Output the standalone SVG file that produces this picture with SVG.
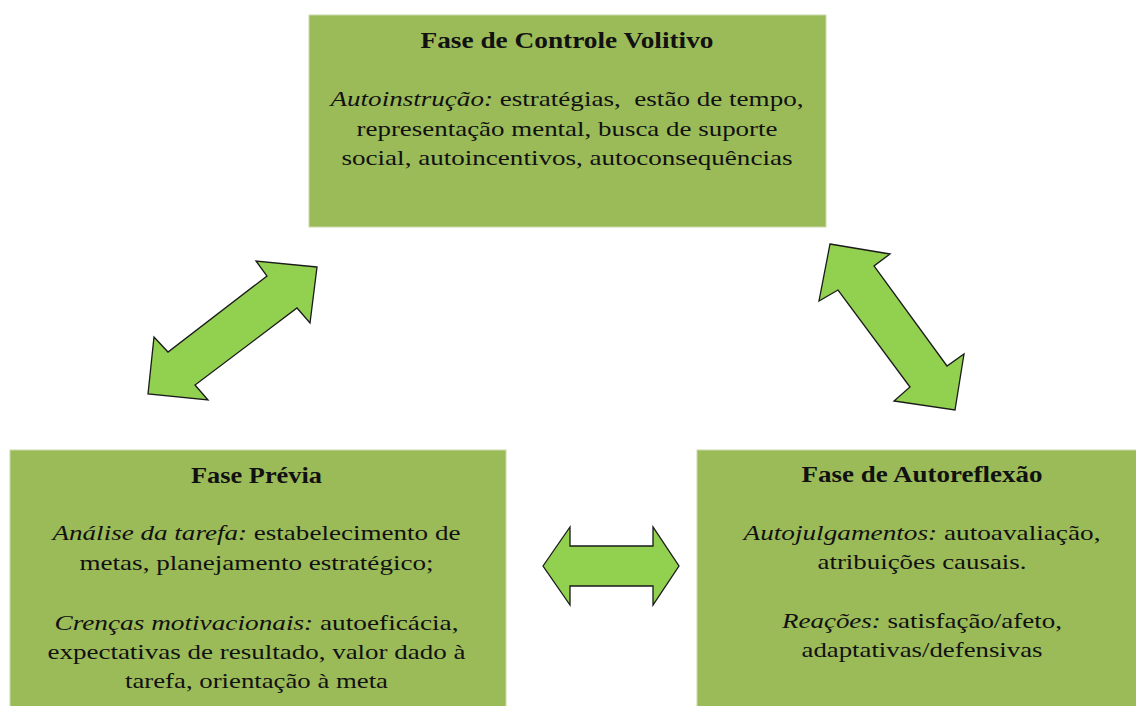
<svg xmlns="http://www.w3.org/2000/svg" width="1136" height="706" viewBox="0 0 1136 706">
<defs>
<style>
.box{fill:#9BBB59;stroke:#C9D9AC;stroke-width:1}
.arr{fill:#92D050;stroke:#1a1a1a;stroke-width:1.3;stroke-linejoin:miter}
text{font-family:"Liberation Serif","Times New Roman",serif;fill:#111;text-anchor:middle}
.t{font-size:23px;font-weight:bold}
.b{font-size:21px}
.i{font-style:italic}
</style>
</defs>
<rect width="1136" height="706" fill="#ffffff"/>
<g id="connectors">
<polygon class="arr" points="317,267 256,261 267,276 168,352 154,337 148,394 208,400 195,385 297,308 310,323"/>
<polygon class="arr" points="830,244 890,254 874,266 947,366 964,354 955,410 894,401 910,387 838,290 819,301"/>
<polygon class="arr" points="543,566 570,527 570,546 653,546 653,527 679,566 653,605 653,586 570,586 570,605"/>
</g>
<g id="node-controle-volitivo">
<rect class="box" x="309" y="15" width="517" height="212"/>
<text class="t" x="567" y="48" textLength="293" lengthAdjust="spacingAndGlyphs">Fase de Controle Volitivo</text>
<text class="b" x="567" y="106" textLength="473" lengthAdjust="spacingAndGlyphs" xml:space="preserve"><tspan class="i">Autoinstrução:</tspan> estratégias,  estão de tempo,</text>
<text class="b" x="567" y="136" textLength="421" lengthAdjust="spacingAndGlyphs">representação mental, busca de suporte</text>
<text class="b" x="567" y="165" textLength="451" lengthAdjust="spacingAndGlyphs">social, autoincentivos, autoconsequências</text>
</g>
<g id="node-fase-previa">
<rect class="box" x="10" y="450" width="496" height="260"/>
<text class="t" x="256.5" y="483" textLength="131" lengthAdjust="spacingAndGlyphs">Fase Prévia</text>
<text class="b" x="256.5" y="540" textLength="408" lengthAdjust="spacingAndGlyphs"><tspan class="i">Análise da tarefa:</tspan> estabelecimento de</text>
<text class="b" x="256.5" y="570" textLength="354" lengthAdjust="spacingAndGlyphs">metas, planejamento estratégico;</text>
<text class="b" x="256.5" y="630" textLength="404" lengthAdjust="spacingAndGlyphs"><tspan class="i">Crenças motivacionais:</tspan> autoeficácia,</text>
<text class="b" x="256.5" y="659" textLength="418" lengthAdjust="spacingAndGlyphs">expectativas de resultado, valor dado à</text>
<text class="b" x="256.5" y="688" textLength="263" lengthAdjust="spacingAndGlyphs">tarefa, orientação à meta</text>
</g>
<g id="node-autoreflexao">
<rect class="box" x="697" y="450" width="450" height="260"/>
<text class="t" x="922" y="482" textLength="241" lengthAdjust="spacingAndGlyphs">Fase de Autoreflexão</text>
<text class="b" x="922" y="540" textLength="357" lengthAdjust="spacingAndGlyphs"><tspan class="i">Autojulgamentos:</tspan> autoavaliação,</text>
<text class="b" x="922" y="569" textLength="209" lengthAdjust="spacingAndGlyphs">atribuições causais.</text>
<text class="b" x="922" y="628" textLength="280" lengthAdjust="spacingAndGlyphs"><tspan class="i">Reações:</tspan> satisfação/afeto,</text>
<text class="b" x="922" y="657" textLength="241" lengthAdjust="spacingAndGlyphs">adaptativas/defensivas</text>
</g>
</svg>
